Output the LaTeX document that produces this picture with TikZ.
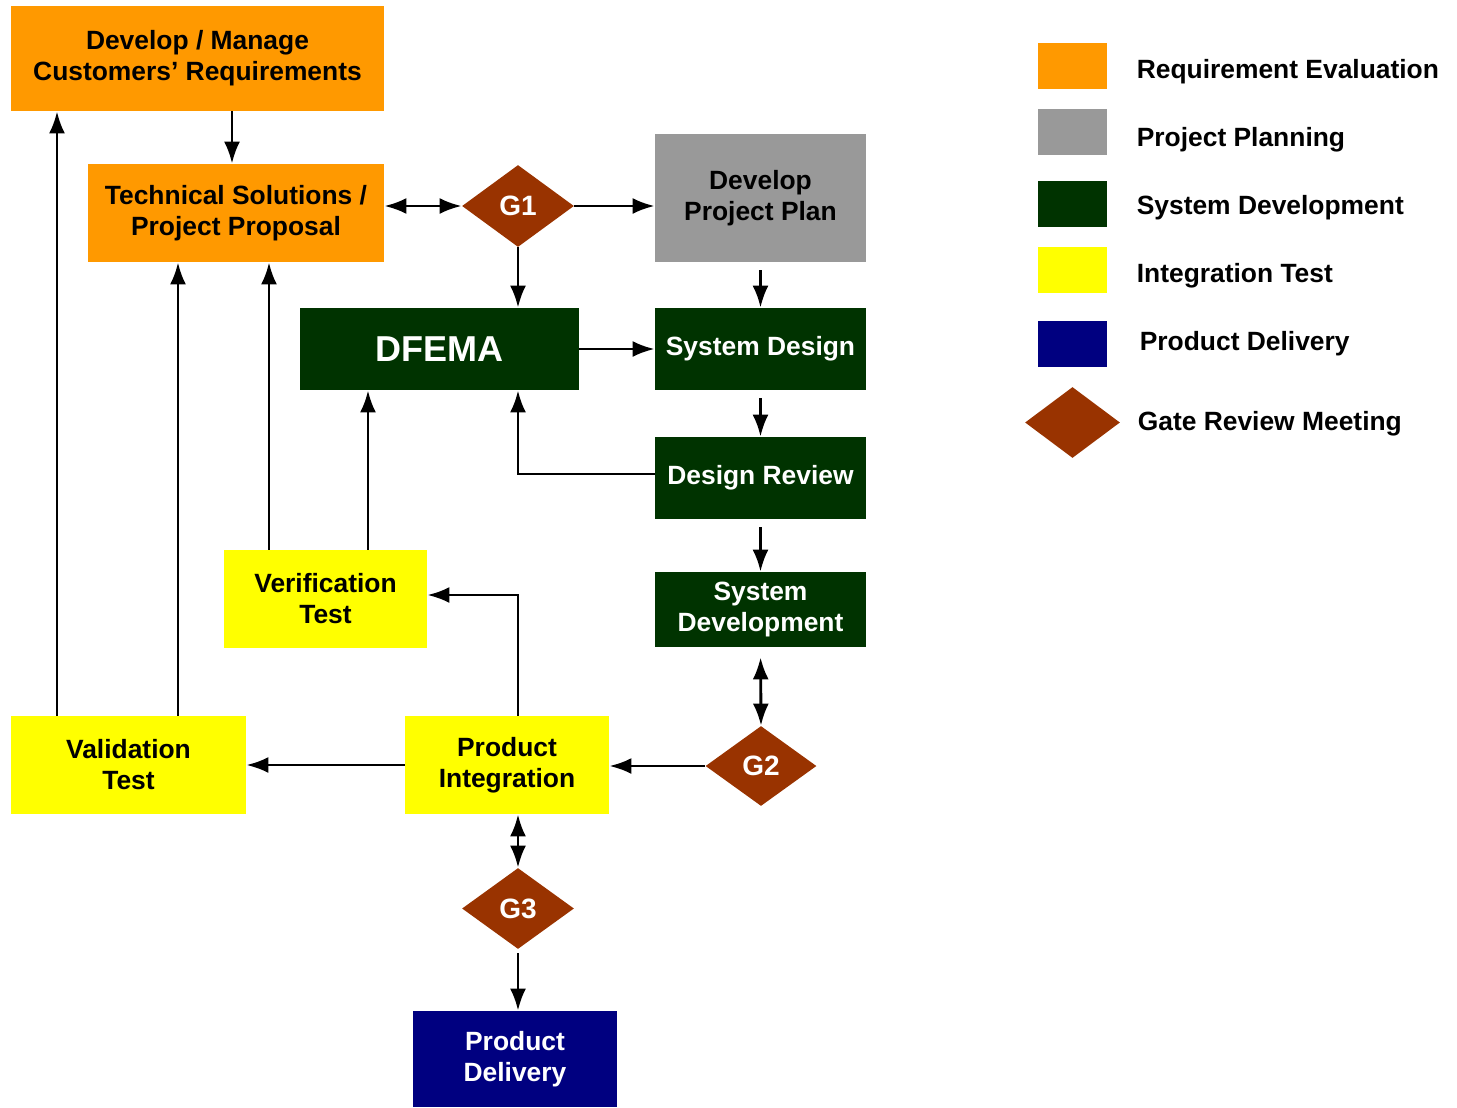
\documentclass[tikz,border=0pt]{standalone}
\usepackage{fontspec}
\setmainfont{Liberation Sans}
\usetikzlibrary{shapes.geometric,arrows.meta,positioning,calc}

\definecolor{reqorange}{HTML}{FF9900}
\definecolor{plangray}{HTML}{999999}
\definecolor{devgreen}{HTML}{003300}
\definecolor{testyellow}{HTML}{FFFF00}
\definecolor{delivblue}{HTML}{000080}
\definecolor{gatebrown}{HTML}{993300}

\tikzset{
    box/.style={shape=rectangle, inner sep=0, align=center, font=\fontsize{13.2}{15.5}\selectfont\bfseries},
    orange node/.style={box, fill=reqorange},
    gray node/.style={box, fill=plangray},
    green node/.style={box, fill=devgreen, text=white},
    yellow node/.style={box, fill=testyellow},
    blue node/.style={box, fill=delivblue, text=white},
    gate node/.style={shape=diamond, fill=gatebrown, text=white, inner sep=0, font=\fontsize{14}{16}\selectfont\bfseries},
    swatch/.style={shape=rectangle, inner sep=0, minimum width=34.5pt, minimum height=23pt},
    legend text/.style={inner sep=0, font=\fontsize{13.2}{15.5}\selectfont\bfseries},
    line/.style={->, line width=1.45pt, draw},
    dline/.style={<->, line width=1.45pt, draw}
  }

\begin{document}
\begin{tikzpicture}[x=0.5pt,y=-0.5pt,>={Latex[length=11pt,width=8pt]}]
    \useasboundingbox (0,0) rectangle (1457,1108);

    % process boxes
    \node[orange node, minimum width=186.5pt, minimum height=52.5pt] (req) at (197.5,58.5) {Develop / Manage\\Customers’ Requirements};
    \node[orange node, minimum width=148pt, minimum height=49pt] (tech) at (236,213) {Technical Solutions /\\Project Proposal};
    \node[gate node, minimum width=56pt, minimum height=41pt] (g1) at (518,206) {G1};
    \node[gray node, minimum width=105.5pt, minimum height=64pt] (plan) at (760.5,198) {Develop\\Project Plan};
    \node[green node, minimum width=139.5pt, minimum height=41pt, font=\fontsize{18}{20}\selectfont\bfseries] (dfema) at (439.5,349) {DFEMA};
    \node[green node, minimum width=105.5pt, minimum height=41pt] (sysdes) at (760.5,349) {System Design};
    \node[green node, minimum width=105.5pt, minimum height=41pt] (review) at (760.5,478) {Design Review};
    \node[green node, minimum width=105.5pt, minimum height=37.5pt] (sysdev) at (760.5,609.5) {System\\Development};
    \node[yellow node, minimum width=101.5pt, minimum height=49pt] (verif) at (325.5,599) {Verification\\Test};
    \node[yellow node, minimum width=117.5pt, minimum height=49pt] (valid) at (128.5,765) {Validation\\Test};
    \node[yellow node, minimum width=102pt, minimum height=49pt] (integ) at (507,765) {Product\\Integration};
    \node[gate node, minimum width=55.5pt, minimum height=40pt] (g2) at (761,766) {G2};
    \node[gate node, minimum width=56pt, minimum height=40.5pt] (g3) at (518,908.5) {G3};
    \node[blue node, minimum width=102pt, minimum height=48pt] (deliv) at (515,1059) {Product\\Delivery};

    \coordinate (v1) at ($(verif.north)+(42.5,0)$);
    \coordinate (v2) at ($(verif.north)+(-56.5,0)$);
    \coordinate (v3) at ($(verif.east)+(0,-4)$);
    \coordinate (a1) at ($(valid.north)+(-71.5,0)$);
    \coordinate (a2) at ($(valid.north)+(49.5,0)$);
    \coordinate (r1) at ($(tech.north)+(-4,0)$);
    \coordinate (d1) at ($(review.west)+(0,-4)$);

    % connectors
    \draw[line] (r1 |- req.south) -- (r1);
    \draw[dline] (tech.east |- g1.west) -- (g1.west);
    \draw[line] (g1.east) -- (g1.east -| plan.west);
    \draw[line] (g1.south) -- (g1.south |- dfema.north);
    \draw[line, shorten <=4pt] (plan.south) -- (sysdes.north);
    \draw[line] (dfema.east) -- (sysdes.west);
    \draw[line, shorten <=4pt] (sysdes.south) -- (review.north);
    \draw[line] (d1) -| (g1.south |- dfema.south);
    \draw[line, shorten <=4pt] (review.south) -- (sysdev.north);
    \draw[dline, shorten <=5pt] (sysdev.south) -- (g2.north);
    \draw[line] (g2.west) -- (g2.west -| integ.east);
    \draw[line] (integ.west) -- (valid.east);
    \draw[line] (integ.north -| g3.north) |- (v3);
    \draw[dline] (integ.south -| g3.north) -- (g3.north);
    \draw[line, shorten <=2pt] (g3.south) -- (g3.south |- deliv.north);
    \draw[line] (v1) -- (v1 |- dfema.south);
    \draw[line] (v2) -- (v2 |- tech.south);
    \draw[line] (a2) -- (a2 |- tech.south);
    \draw[line] (a1) -- (a1 |- req.south);

    % legend
    \node[swatch, fill=reqorange] (kreq) at (1072.5,66) {};
    \node[swatch, fill=plangray] (kplan) at (1072.5,132) {};
    \node[swatch, fill=devgreen] (kdev) at (1072.5,204) {};
    \node[swatch, fill=testyellow] (ktest) at (1072.5,270) {};
    \node[swatch, fill=delivblue] (kdeliv) at (1072.5,343.5) {};
    \node[gate node, minimum width=47.5pt, minimum height=35.5pt] (kgate) at (1072.5,422.5) {};
    \node[legend text, right=14.5pt of kreq, yshift=-3pt] (treq) {Requirement Evaluation};
    \node[legend text, right=14.5pt of kplan, yshift=-4pt] (tplan) {Project Planning};
    \node[legend text, right=14.5pt of kdev, yshift=-2pt] (tdev) {System Development};
    \node[legend text, right=14.5pt of ktest, yshift=-3pt] (ttest) {Integration Test};
    \node[legend text, right=16pt of kdeliv] (tdeliv) {Product Delivery};
    \node[legend text, right=8.5pt of kgate, yshift=-0.5pt] (tgate) {Gate Review Meeting};
\end{tikzpicture}
\end{document}
